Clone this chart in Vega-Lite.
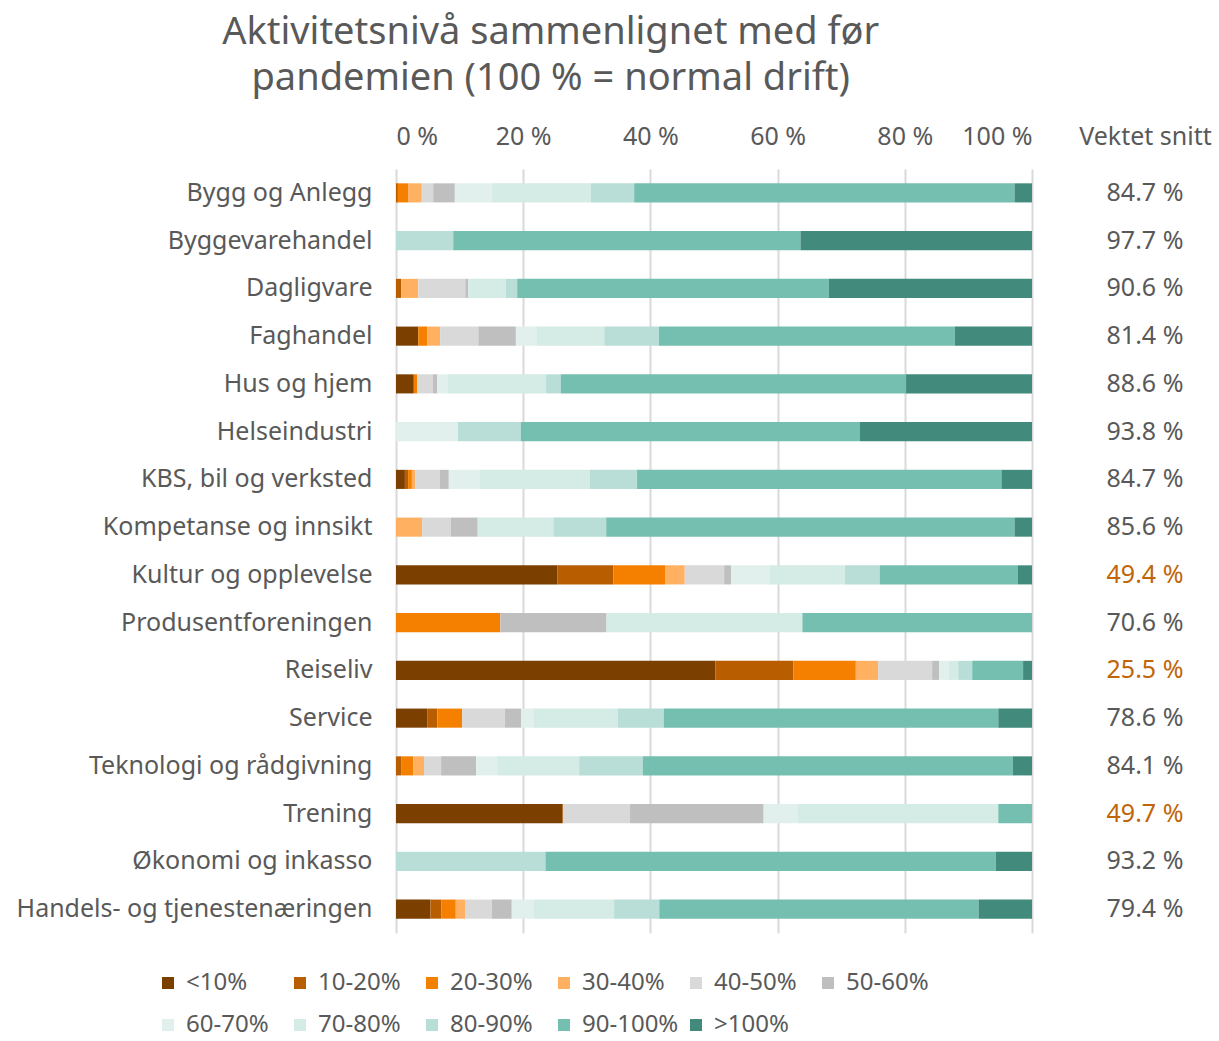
{
  "$schema": "https://vega.github.io/schema/vega-lite/v6.json",
  "background": "white",
  "padding": {"left": 16, "top": 14, "right": 4, "bottom": 6},
  "config": {"font": "Noto Sans", "view": {"stroke": null}},
  "title": {
    "text": ["Aktivitetsnivå sammenlignet med før", "pandemien (100 % = normal drift)"],
    "fontSize": 38, "fontWeight": "normal", "color": "#595959", "lineHeight": 46,
    "anchor": "middle", "frame": "bounds", "offset": 26, "dx": -63
  },
  "data": {"values": [
    {"k": "Bygg og Anlegg", "snitt": 84.7, "<10%": 0, "10-20%": 0.3, "20-30%": 1.6, "30-40%": 2.15, "40-50%": 1.8, "50-60%": 3.4, "60-70%": 5.8, "70-80%": 15.6, "80-90%": 6.8, "90-100%": 59.8, ">100%": 2.75},
    {"k": "Byggevarehandel", "snitt": 97.7, "<10%": 0, "10-20%": 0, "20-30%": 0, "30-40%": 0, "40-50%": 0, "50-60%": 0, "60-70%": 0, "70-80%": 0, "80-90%": 9.0, "90-100%": 54.6, ">100%": 36.4},
    {"k": "Dagligvare", "snitt": 90.6, "<10%": 0, "10-20%": 0.8, "20-30%": 0, "30-40%": 2.7, "40-50%": 7.4, "50-60%": 0.45, "60-70%": 0, "70-80%": 5.9, "80-90%": 1.8, "90-100%": 49.0, ">100%": 31.95},
    {"k": "Faghandel", "snitt": 81.4, "<10%": 3.5, "10-20%": 0, "20-30%": 1.4, "30-40%": 2.05, "40-50%": 6.0, "50-60%": 5.9, "60-70%": 3.3, "70-80%": 10.6, "80-90%": 8.6, "90-100%": 46.5, ">100%": 12.15},
    {"k": "Hus og hjem", "snitt": 88.6, "<10%": 2.8, "10-20%": 0, "20-30%": 0.5, "30-40%": 0, "40-50%": 2.5, "50-60%": 0.7, "60-70%": 1.6, "70-80%": 15.5, "80-90%": 2.3, "90-100%": 54.3, ">100%": 19.8},
    {"k": "Helseindustri", "snitt": 93.8, "<10%": 0, "10-20%": 0, "20-30%": 0, "30-40%": 0, "40-50%": 0, "50-60%": 0, "60-70%": 9.75, "70-80%": 0, "80-90%": 9.9, "90-100%": 53.3, ">100%": 27.05},
    {"k": "KBS, bil og verksted", "snitt": 84.7, "<10%": 1.4, "10-20%": 0.5, "20-30%": 0.6, "30-40%": 0.5, "40-50%": 3.9, "50-60%": 1.4, "60-70%": 4.9, "70-80%": 17.3, "80-90%": 7.4, "90-100%": 57.3, ">100%": 4.8},
    {"k": "Kompetanse og innsikt", "snitt": 85.6, "<10%": 0, "10-20%": 0, "20-30%": 0, "30-40%": 4.1, "40-50%": 4.55, "50-60%": 4.2, "60-70%": 0, "70-80%": 11.9, "80-90%": 8.3, "90-100%": 64.2, ">100%": 2.75},
    {"k": "Kultur og opplevelse", "snitt": 49.4, "<10%": 25.4, "10-20%": 8.8, "20-30%": 8.1, "30-40%": 3.1, "40-50%": 6.2, "50-60%": 1.1, "60-70%": 6.0, "70-80%": 11.9, "80-90%": 5.45, "90-100%": 21.75, ">100%": 2.2},
    {"k": "Produsentforeningen", "snitt": 70.6, "<10%": 0, "10-20%": 0, "20-30%": 16.4, "30-40%": 0, "40-50%": 0, "50-60%": 16.7, "60-70%": 0, "70-80%": 30.8, "80-90%": 0, "90-100%": 36.1, ">100%": 0},
    {"k": "Reiseliv", "snitt": 25.5, "<10%": 50.2, "10-20%": 12.3, "20-30%": 9.8, "30-40%": 3.5, "40-50%": 8.5, "50-60%": 1.1, "60-70%": 1.5, "70-80%": 1.5, "80-90%": 2.2, "90-100%": 8.0, ">100%": 1.4},
    {"k": "Service", "snitt": 78.6, "<10%": 4.9, "10-20%": 1.6, "20-30%": 3.9, "30-40%": 0, "40-50%": 6.7, "50-60%": 2.6, "60-70%": 2.0, "70-80%": 13.2, "80-90%": 7.2, "90-100%": 52.6, ">100%": 5.3},
    {"k": "Teknologi og rådgivning", "snitt": 84.1, "<10%": 0, "10-20%": 0.8, "20-30%": 1.9, "30-40%": 1.7, "40-50%": 2.7, "50-60%": 5.5, "60-70%": 3.3, "70-80%": 12.9, "80-90%": 10.0, "90-100%": 58.2, ">100%": 3.0},
    {"k": "Trening", "snitt": 49.7, "<10%": 26.2, "10-20%": 0.1, "20-30%": 0, "30-40%": 0, "40-50%": 10.5, "50-60%": 21.0, "60-70%": 5.4, "70-80%": 31.5, "80-90%": 0, "90-100%": 5.3, ">100%": 0},
    {"k": "Økonomi og inkasso", "snitt": 93.2, "<10%": 0, "10-20%": 0, "20-30%": 0, "30-40%": 0, "40-50%": 0, "50-60%": 0, "60-70%": 0, "70-80%": 0, "80-90%": 23.5, "90-100%": 70.8, ">100%": 5.7},
    {"k": "Handels- og tjenestenæringen", "snitt": 79.4, "<10%": 5.4, "10-20%": 1.7, "20-30%": 2.3, "30-40%": 1.45, "40-50%": 4.25, "50-60%": 3.1, "60-70%": 3.5, "70-80%": 12.6, "80-90%": 7.1, "90-100%": 50.2, ">100%": 8.4}
  ]},
  "bounds": "flush",
  "spacing": 48,
  "hconcat": [
    {
      "width": 636,
      "height": 764,
      "transform": [
        {"fold": ["<10%", "10-20%", "20-30%", "30-40%", "40-50%", "50-60%", "60-70%", "70-80%", "80-90%", "90-100%", ">100%"], "as": ["band", "v"]},
        {"calculate": "indexof(['<10%','10-20%','20-30%','30-40%','40-50%','50-60%','60-70%','70-80%','80-90%','90-100%','>100%'], datum.band)", "as": "i"}
      ],
      "mark": {"type": "bar", "opacity": 1},
      "encoding": {
        "y": {"field": "k", "type": "nominal", "sort": null,
          "scale": {"paddingInner": 0.6, "paddingOuter": 0.3},
          "axis": {"title": null, "ticks": false, "domain": false, "labelFontSize": 25, "labelColor": "#595959", "labelPadding": 24, "labelLimit": 500}},
        "x": {"field": "v", "type": "quantitative", "stack": "zero", "scale": {"domain": [0, 100], "nice": false},
          "axis": {"orient": "top", "title": null, "values": [0, 20, 40, 60, 80, 100], "labelExpr": "datum.value + ' %'", "grid": true, "gridColor": "#d9d9d9", "gridWidth": 2, "domain": false, "ticks": false, "labelFontSize": 25, "labelColor": "#595959", "labelPadding": 20}},
        "color": {"field": "band", "type": "nominal",
          "scale": {"domain": ["<10%", "10-20%", "20-30%", "30-40%", "40-50%", "50-60%", "60-70%", "70-80%", "80-90%", "90-100%", ">100%"],
                    "range": ["#7b3f00", "#b85e00", "#f58000", "#ffb061", "#d9d9d9", "#bfbfbf", "#e2f0ed", "#d5ebe6", "#b8ded7", "#75bfb0", "#418a7c"]},
          "legend": {"title": null, "orient": "none", "legendX": -240, "legendY": 802, "direction": "horizontal", "columns": 6, "gridAlign": "all", "symbolType": "square", "symbolSize": 144, "symbolStrokeWidth": 0, "labelFontSize": 24, "labelColor": "#595959", "labelOffset": 6, "columnPadding": 5, "rowPadding": 18}},
        "order": {"field": "i"}
      }
    },
    {
      "width": 130,
      "height": 764,
      "transform": [{"calculate": "format(datum.snitt, '.1f') + ' %'", "as": "lbl"}],
      "mark": {"type": "text", "fontSize": 25},
      "encoding": {
        "y": {"field": "k", "type": "nominal", "sort": null, "scale": {"paddingInner": 0.6, "paddingOuter": 0.3}, "axis": null},
        "x": {"datum": "Vektet snitt", "type": "nominal",
          "axis": {"orient": "top", "title": null, "ticks": false, "domain": false, "grid": false, "labelAngle": 0, "labelFontSize": 25, "labelColor": "#595959", "labelPadding": 20}},
        "text": {"field": "lbl"},
        "color": {"condition": {"test": "datum.snitt < 50", "value": "#c0650a"}, "value": "#595959"}
      }
    }
  ]
}
